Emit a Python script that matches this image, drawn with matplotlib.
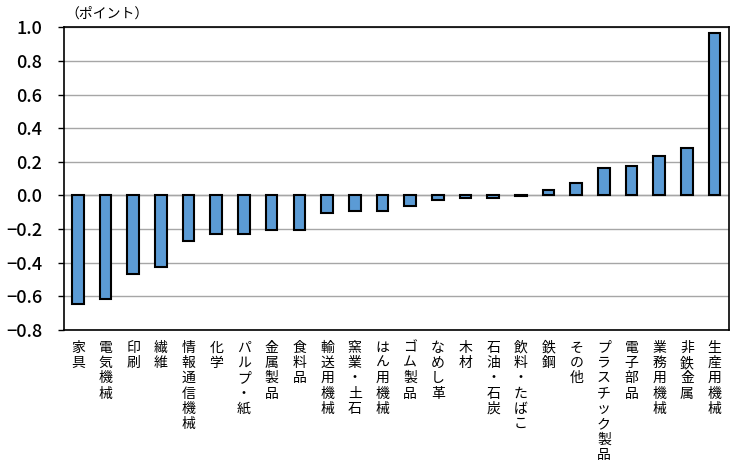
import matplotlib
matplotlib.use("Agg")
import matplotlib.pyplot as plt
import matplotlib.transforms as mtransforms

plt.rcParams['font.family'] = ['Noto Sans CJK JP', 'DejaVu Sans']

categories = ["家具", "電気機械", "印刷", "繊維", "情報通信機械", "化学", "パルプ・紙",
              "金属製品", "食料品", "輸送用機械", "窯業・土石", "はん用機械", "ゴム製品",
              "なめし革", "木材", "石油・石炭", "飲料・たばこ", "鉄鋼", "その他",
              "プラスチック製品", "電子部品", "業務用機械", "非鉄金属", "生産用機械"]
values = [-0.645, -0.615, -0.465, -0.425, -0.27, -0.23, -0.23, -0.205, -0.205,
          -0.105, -0.093, -0.093, -0.062, -0.027, -0.015, -0.015, -0.006,
          0.03, 0.073, 0.162, 0.175, 0.233, 0.28, 0.968]
yticks = [-0.8, -0.6, -0.4, -0.2, 0.0, 0.2, 0.4, 0.6, 0.8, 1.0]
unit_label = "（ポイント）"

fig = plt.figure(figsize=(7.54, 4.73), dpi=100)
ax = fig.add_axes([64/754, 1-330/473, (728.5-64)/754, (330-27.3)/473])

ax.set_axisbelow(True)
ax.yaxis.grid(True, color='#a6a6a6', linewidth=1.0)
x = list(range(len(categories)))
ax.bar(x, values, width=0.42, color='#5B9BD5', edgecolor='black', linewidth=1.5, zorder=3)
ax.axhline(0, color='#a6a6a6', linewidth=1.0, zorder=2)

ax.set_xlim(-0.5, len(categories)-0.5)
ax.set_ylim(-0.8, 1.0)
ax.set_yticks(yticks)
ax.set_yticklabels([f"{v:.1f}".replace('-', '−') for v in yticks], fontsize=13,
                   fontweight='medium')
ax.tick_params(axis='y', length=4.3, width=1, pad=11.5, direction='out')
ax.set_xticks([])

for s in ax.spines.values():
    s.set_color('black')
    s.set_linewidth(1.2)

trans = mtransforms.blended_transform_factory(ax.transData, ax.transAxes)
for xi, cat in zip(x, categories):
    ax.text(xi, -0.035, '\n'.join(cat), transform=trans, ha='center', va='top',
            fontsize=10, linespacing=1.12)

fig.text(65/754, 1-14/473, unit_label, fontsize=10, ha='left', va='center')

fig.savefig('out.png', dpi=100)
